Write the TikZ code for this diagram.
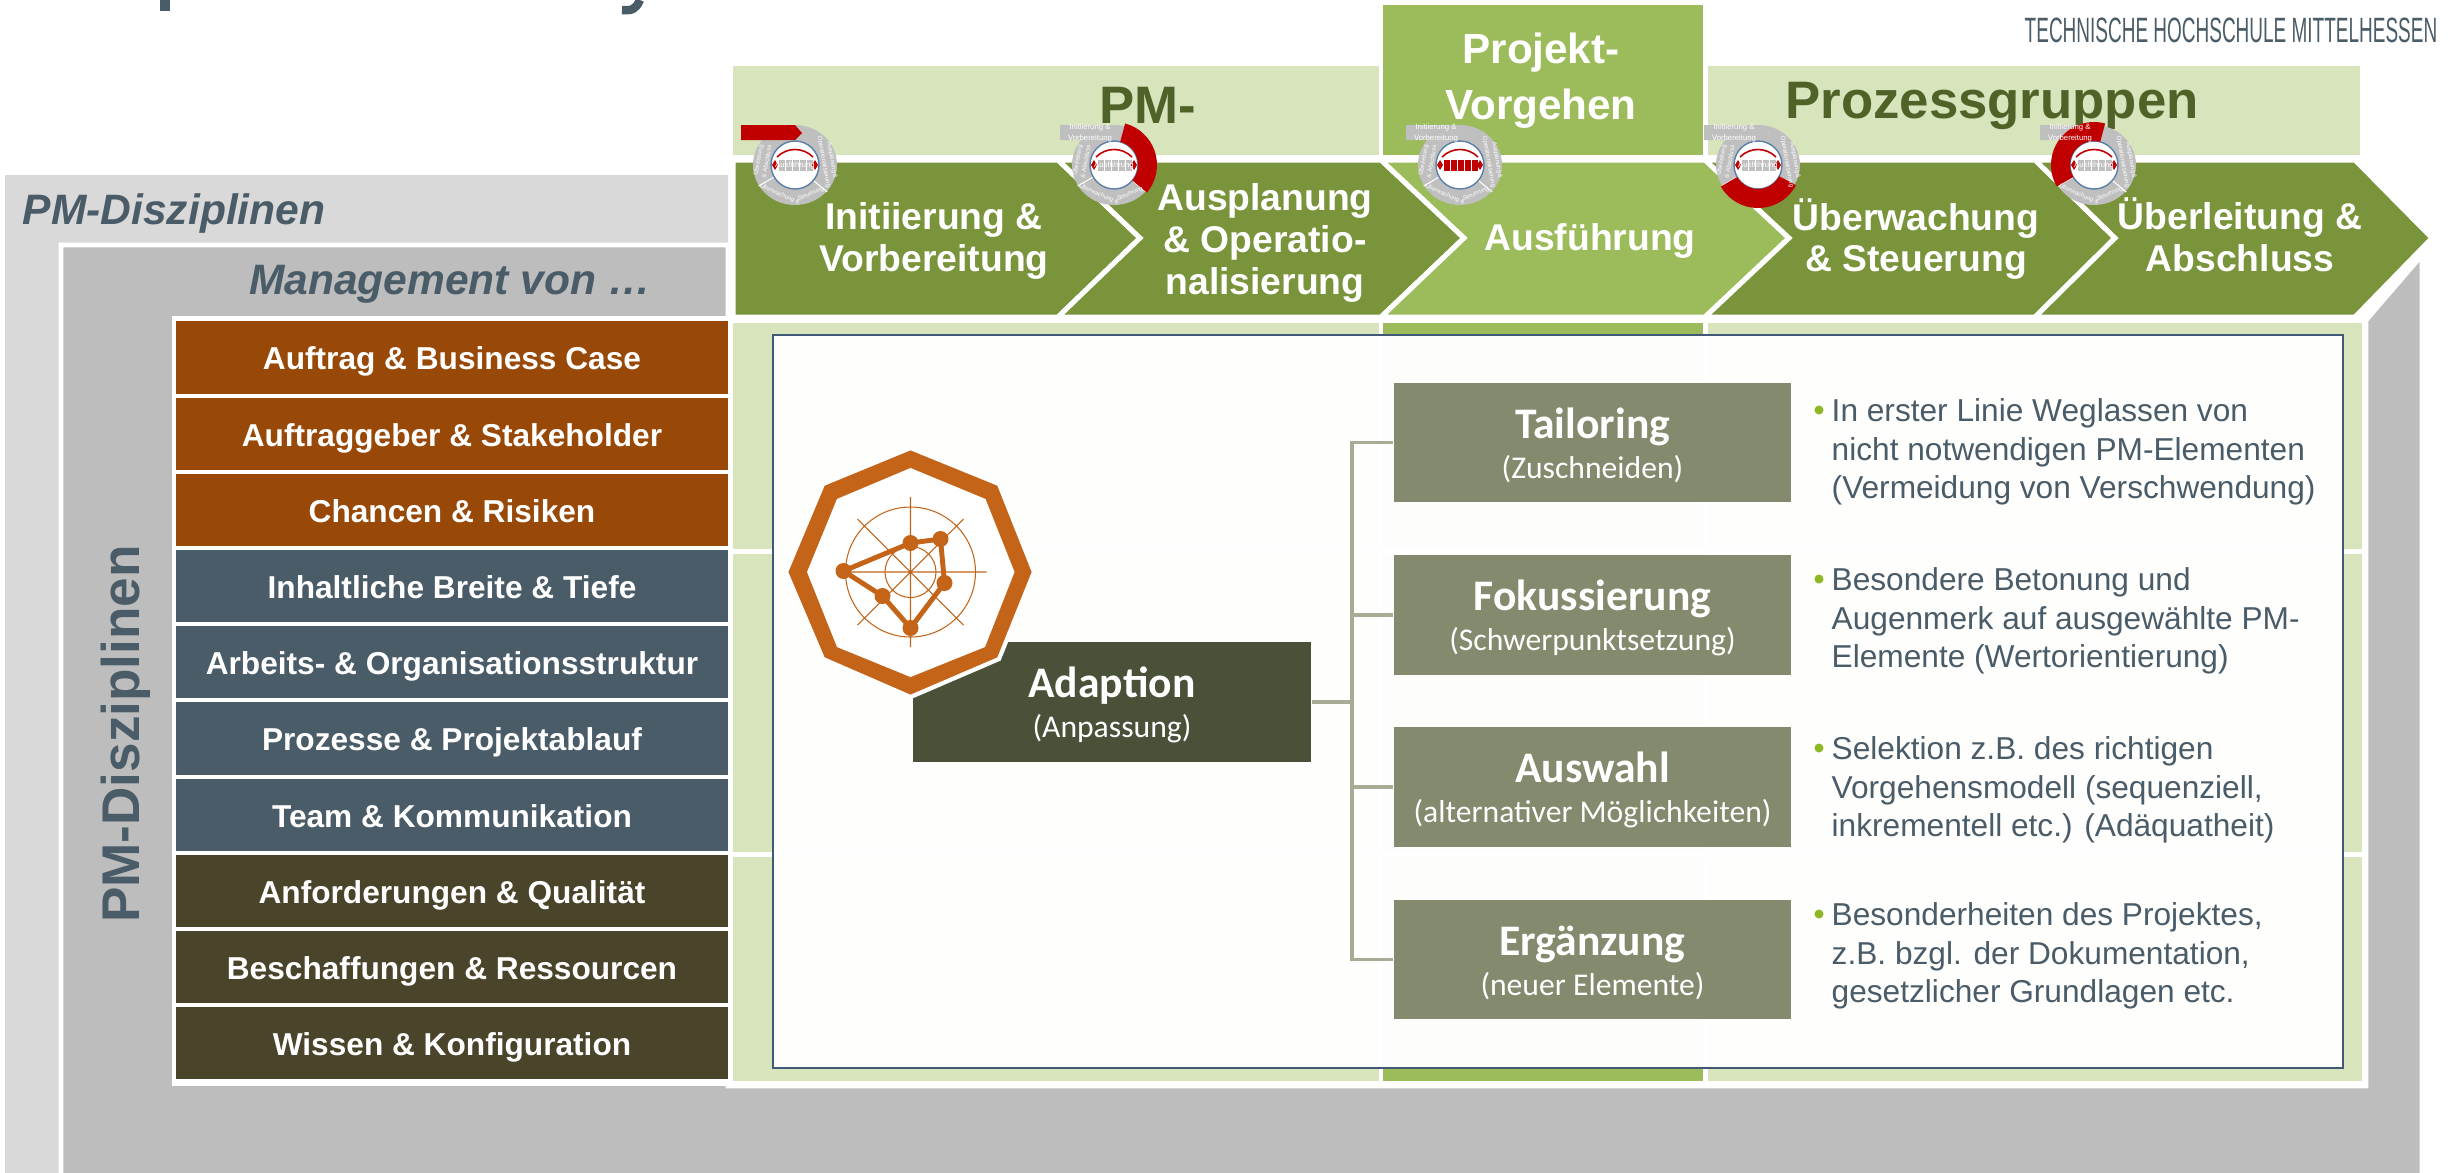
\documentclass[tikz,border=0pt]{standalone}
\usepackage{fontspec}
\setmainfont{Liberation Sans}
\newfontfamily\carlitofont{Carlito}

\definecolor{lightgray}{HTML}{D9D9D9}
\definecolor{midgray}{HTML}{BDBDBD}
\definecolor{slate}{HTML}{4A5C68}
\definecolor{rust}{HTML}{984807}
\definecolor{umber}{HTML}{4A442A}
\definecolor{paleband}{HTML}{D8E4BC}
\definecolor{darkgreen}{HTML}{7A943C}
\definecolor{lightgreen}{HTML}{9CBB5A}
\definecolor{headgreen}{HTML}{4F6228}
\definecolor{boxgreen}{HTML}{838A6D}
\definecolor{adaptgreen}{HTML}{4A5139}
\definecolor{busgreen}{HTML}{A6AD94}
\definecolor{octaorange}{HTML}{C46418}
\definecolor{ringgray}{HTML}{BFBFBF}
\definecolor{ringred}{HTML}{C00000}
\definecolor{ringblue}{HTML}{5B7FA8}
\definecolor{dotgreen}{HTML}{8DB824}

\tikzset{
	rowbox/.style={minimum width=5.52cm,minimum height=0.72cm,inner sep=0pt,text=white,
		text height=7pt,text depth=0pt,font=\bfseries\fontsize{9}{11}\selectfont},
	chevron/.style={draw=white,line width=1.42pt,line join=miter},
	chevtext/.style={text=white,align=center,inner sep=0pt,
		font=\bfseries\fontsize{10.6}{11.9}\selectfont},
	headtext/.style={text=headgreen,inner sep=0pt,font=\bfseries\fontsize{15}{15}\selectfont},
	subbox/.style={fill=boxgreen,minimum width=3.97cm,minimum height=1.19cm,inner sep=0pt,
		text=white,align=center,font=\carlitofont\fontsize{9}{11.3}\selectfont},
	bodytext/.style={text=slate,align=left,anchor=west,inner sep=0pt,
		font=\fontsize{9}{10.9}\selectfont},
	busline/.style={draw=busgreen,line width=1.1pt},
	tinytext/.style={text=white,align=center,inner sep=0pt,font=\fontsize{2.2}{2.9}\selectfont},
	ringtext/.style={text=white,align=center,inner sep=0pt,font=\fontsize{1.7}{2.4}\selectfont},
}

% ring icon: centre, tab colour, bar colour
\newcommand{\pmring}[3]{
	\begin{scope}[shift={(#1)}]
		\fill[ringgray] (0,0) circle[x radius=42,y radius=40];
		\draw[white,line width=0.3pt] (40:24) -- (40:42) (150:24) -- (150:42);
		\fill[#2] (-54,-40) -- (0,-40) -- (7,-32) -- (0,-25) -- (-54,-25) -- cycle;
		\draw[fill=white,draw=ringblue,line width=0.4pt] (0,0) circle (24);
		\foreach \k in {-17,-10,-3,4,11}
			\draw[fill=#3,draw=white,line width=0.15pt] (\k,-6) rectangle ++(7,12);
		\fill[ringred] (-23,0) -- (-20,-5) -- (-17,0) -- (-20,5) -- cycle;
		\fill[ringred] (23,0) -- (20,-5) -- (17,0) -- (20,5) -- cycle;
		\draw[ringred,line width=0.45pt] (-18,-8) .. controls (-8,-18) and (8,-18) .. (18,-8);
	\end{scope}
}
\newcommand{\pmtab}[2]{
	\node[tinytext] (#1tab) at ([shift={(-24,-32)}]#2) {Initiierung \&\\Vorbereitung};
}
\newcommand{\pmmiddle}[2]{
	\node[tinytext] (#1mid) at (#2) {Ausführung};
}
\newcommand{\pmbottom}[2]{
	\node[ringtext,rotate=-24] (#1botl) at ([shift={(-15,29)}]#2) {Überwachung \&};
	\node[ringtext,rotate=24] (#1botr) at ([shift={(16,29)}]#2) {Steuerung};
}
\newcommand{\pmright}[2]{
	\node[ringtext,rotate=-80] (#1rgt) at ([shift={(33,-4)}]#2) {Ausplanung \&\\Operationalisierung};
}
\newcommand{\pmleft}[2]{
	\node[ringtext,rotate=80] (#1lft) at ([shift={(-33,-4)}]#2) {Überleitung\\\& Abschluss};
}
% red part of the ring
\newcommand{\pmseg}[3]{
	\fill[ringred,shift={(#1)}] (#2:24) arc[start angle=#2,end angle=#3,radius=24]
		-- (#3:43) arc[start angle=#3,end angle=#2,radius=43] -- cycle;
}

\begin{document}
\begin{tikzpicture}[x=0.01cm,y=-0.01cm]
	\useasboundingbox (0,0) rectangle (2450,1172);

	% cut off title
	\fill[slate] (160,0) rectangle (170,11);
	\draw[slate,line width=2.4pt] (640,0) .. controls (636,9) and (632,11) .. (622,10);
	\node[text=slate,inner sep=0pt,xscale=0.54,font=\fontsize{10}{10}\selectfont] (thm) at (2231,30) {TECHNISCHE HOCHSCHULE MITTELHESSEN};

	% grey frames
	\fill[lightgray] (5,175) -- (728,175) -- (728,1190) -- (5,1190) -- cycle;
	\draw[fill=midgray,draw=white,line width=1.4pt] (61,245) -- (728,245) -- (728,1086) -- (2366,1086)
		-- (2366,320) -- (2422,255) -- (2422,1190) -- (61,1190) -- cycle;
	\fill[white] (172,316) rectangle (2366,1086);

	\node[inner sep=0pt,text=slate,font=\bfseries\itshape\fontsize{12.1}{12}\selectfont] (pmdisz) at (174,213) {PM-Disziplinen};
	\node[inner sep=0pt,text=slate,font=\bfseries\itshape\fontsize{12.1}{12}\selectfont] (mgmt) at (450,284) {Management von \dots};
	\node[inner sep=0pt,text=slate,rotate=90,font=\bfseries\fontsize{15.1}{15}\selectfont] (pmside) at (126,734) {PM-Disziplinen};

	% bands behind the process groups
	\fill[paleband] (733,66) rectangle (1379,155);
	\fill[lightgreen] (1383,5) rectangle (1703,155);
	\fill[paleband] (1708,66) rectangle (2360,155);
	\fill[paleband] (733,323) rectangle (1379,1081);
	\fill[lightgreen] (1383,323) rectangle (1703,1081);
	\fill[paleband] (1708,323) rectangle (2362,1081);
	\draw[white,line width=1.42pt] (733,551) -- (2362,551);
	\draw[white,line width=1.42pt] (733,854) -- (2362,854);

	\node[headtext] (headpm) at (1148,105) {PM-};
	\node[headtext] (headpg) at (1992,106) {Prozessgruppen};
	\node[text=white,align=center,inner sep=0pt,font=\bfseries\fontsize{12}{16}\selectfont] (headpv) at (1541,81) {Projekt-\\Vorgehen};

	% process groups
	\foreach \xa/\tipa/\xb/\tipb/\col in {733/733/1058/1140/darkgreen,1058/1140/1381/1464/darkgreen,
		1381/1464/1705/1789/lightgreen,1705/1789/2035/2115/darkgreen,2035/2115/2355/2432/darkgreen}
		\draw[chevron,fill=\col] (\xa,160) -- (\xb,160) -- (\tipb,238) -- (\xb,317) -- (\xa,317) -- (\tipa,238) -- cycle;

	\node[chevtext] (initiierung) at (934,241) {Initiierung \&\\Vorbereitung};
	\node[chevtext] (ausplanung) at (1265,243) {Ausplanung\\\& Operatio-\\nalisierung};
	\node[chevtext] (ausfuehrung) at (1590,241) {Ausführung};
	\node[chevtext] (ueberwachung) at (1916,239) {Überwachung\\\& Steuerung};
	\node[chevtext] (ueberleitung) at (2240,235) {Überleitung \&\\Abschluss};

	% ring icons
	\pmring{795,165}{ringred}{ringgray}
	\pmmiddle{ringa}{795,165}
	\pmbottom{ringa}{795,165}\pmright{ringa}{795,165}\pmleft{ringa}{795,165}

	\pmring{1114,165}{ringgray}{ringgray}
	\pmseg{1114,165}{-75}{40}
	\pmtab{ringb}{1114,165}\pmmiddle{ringb}{1114,165}
	\pmbottom{ringb}{1114,165}\pmleft{ringb}{1114,165}

	\pmring{1460,165}{ringgray}{ringred}
	\pmtab{ringc}{1460,165}
	\pmbottom{ringc}{1460,165}\pmright{ringc}{1460,165}\pmleft{ringc}{1460,165}

	\pmring{1758,165}{ringgray}{ringgray}
	\pmseg{1758,165}{28}{150}
	\pmtab{ringd}{1758,165}\pmmiddle{ringd}{1758,165}
	\pmright{ringd}{1758,165}\pmleft{ringd}{1758,165}

	\pmring{2094,165}{ringgray}{ringgray}
	\pmseg{2094,165}{150}{285}
	\pmtab{ringe}{2094,165}\pmmiddle{ringe}{2094,165}
	\pmbottom{ringe}{2094,165}\pmright{ringe}{2094,165}

	% management rows
	\foreach \txt/\col [count=\i from 0] in {Auftrag \& Business Case/rust,Auftraggeber \& Stakeholder/rust,
		Chancen \& Risiken/rust,Inhaltliche Breite \& Tiefe/slate,Arbeits- \& Organisationsstruktur/slate,
		Prozesse \& Projektablauf/slate,Team \& Kommunikation/slate,Anforderungen \& Qualität/umber,
		Beschaffungen \& Ressourcen/umber,Wissen \& Konfiguration/umber}
		\node[rowbox,fill=\col] (row\i) at (452,{357.5+76.2*\i}) {\txt};

	% panel
	\draw[fill=white,fill opacity=0.98,draw=ringblue!70!black,line width=0.4pt] (773,335) rectangle (2343,1068);

	% adaption
	\node[fill=adaptgreen,minimum width=3.98cm,minimum height=1.19cm,inner sep=0pt,text=white,align=center,
		font=\carlitofont\fontsize{9}{11.3}\selectfont] (adaption) at (1112,702) {\rule{0pt}{10.5pt}\textbf{\fontsize{12.4}{12}\selectfont Adaption}\\(Anpassung)};

	\draw[draw=white,fill=octaorange,line width=1.2pt] (910.5,448) -- (999,484) -- (1034,572) -- (999,659)
		-- (910.5,697) -- (823,659) -- (786,572) -- (823,484) -- cycle;
	\fill[white] (910.5,468) -- (985.5,499) -- (1014.5,572) -- (985,647)
		-- (910.5,677) -- (837,647) -- (807,572) -- (837,499) -- cycle;
	\begin{scope}[shift={(910.5,572)},octaorange]
		\draw[line width=0.3pt] (0,0) circle (65) (0,0) circle (25.5);
		\draw[line width=0.3pt] (0,-75) -- (0,75) (-65,0) -- (76,0) (-53,-53) -- (53,53) (-53,53) -- (53,-53);
		\draw[line width=1.4pt,line join=round] (-67,-1) -- (0,-29) -- (30,-33) -- (34,11) -- (0,56) -- (-28,24) -- cycle;
		\foreach \px/\py in {-67/-1,0/-29,30/-33,34/11,0/56,-28/24}
			\fill (\px,\py) circle (8);
	\end{scope}

	% the four adaption kinds
	\foreach \name/\title/\sub/\ypos in {tailoring/Tailoring/Zuschneiden/442.5,fokus/Fokussierung/Schwerpunktsetzung/615,
		auswahl/Auswahl/alternativer Möglichkeiten/787,ergaenzung/Ergänzung/neuer Elemente/959.5}
		\node[subbox] (\name) at (1592.5,\ypos) {\rule{0pt}{10.5pt}\textbf{\fontsize{12.4}{12}\selectfont \title}\\(\sub)};

	\coordinate (busa) at (1352,702);
	\draw[busline] (adaption.east) -- (busa);
	\foreach \name in {tailoring,fokus,auswahl,ergaenzung}
		\draw[busline] (busa) |- (\name.west);

	% explanations
	\foreach \name/\ypos/\txt in {tailoring/452/{In erster Linie Weglassen von\\nicht notwendigen PM-Elementen\\(Vermeidung von Verschwendung)},
		fokus/621/{Besondere Betonung und\\Augenmerk auf ausgewählte PM-\\Elemente (Wertorientierung)},
		auswahl/790/{Selektion z.B. des richtigen\\Vorgehensmodell (sequenziell,\\inkrementell etc.) (Adäquatheit)},
		ergaenzung/956/{Besonderheiten des Projektes,\\z.B. bzgl. der Dokumentation,\\gesetzlicher Grundlagen etc.}}{
		\node[bodytext] (\name text) at (1831,\ypos) {\txt};
		\node[circle,fill=dotgreen,inner sep=0pt,minimum size=0.09cm] (\name dot) at (1819,\ypos-42) {};
	}
\end{tikzpicture}
\end{document}
